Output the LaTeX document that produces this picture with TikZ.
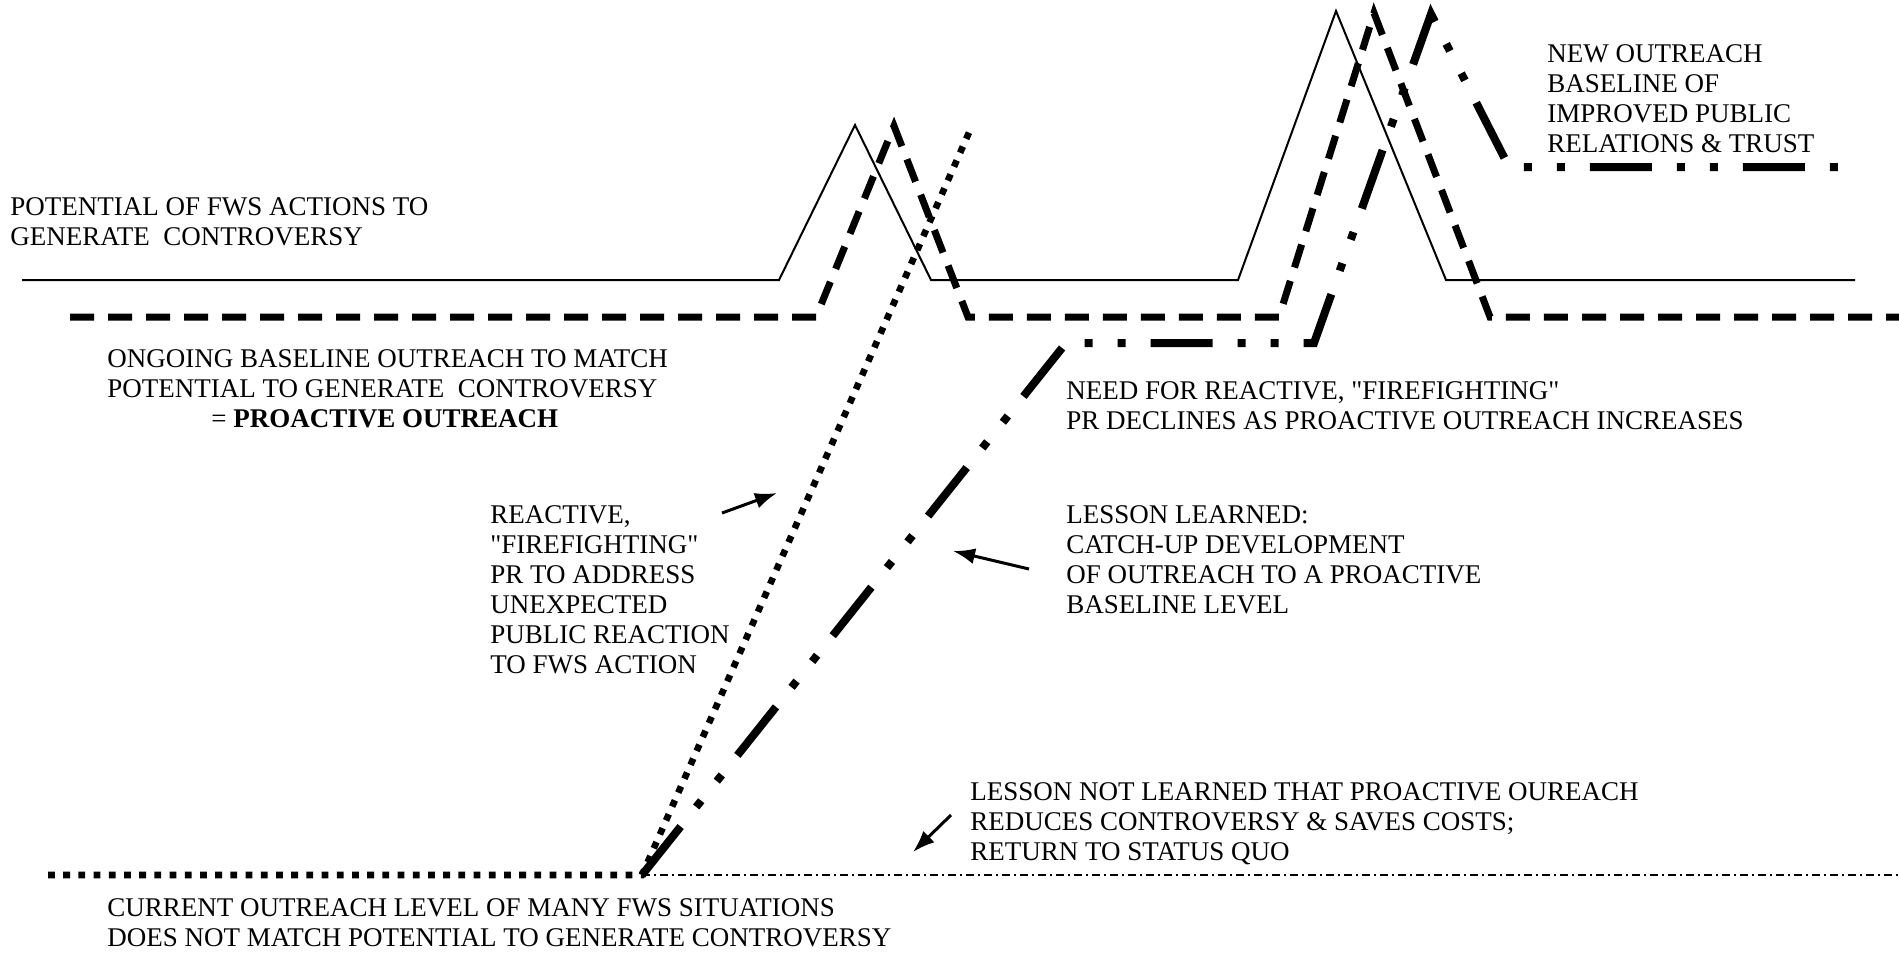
\documentclass[tikz,border=0pt]{standalone}
\usepackage{fontspec}
\setmainfont{Liberation Serif}
\usetikzlibrary{arrows.meta}

\begin{document}
\begin{tikzpicture}[
  x=0.5pt, y=-0.5pt,
  every node/.style = {align=left, anchor=base west, inner sep=0pt,
    font=\fontsize{13.5}{15}\selectfont},
  potential/.style = {line width=1pt},
  proactive/.style = {line width=3.5pt, dash pattern=on 12pt off 7pt},
  reactive/.style = {line width=3.3pt, dash pattern=on 3.4pt off 4.2pt},
  catchup/.style = {line width=4pt, dash pattern=on 31pt off 12.5pt on 4pt off 12.5pt on 4pt off 12.5pt},
  statusquo/.style = {line width=0.6pt, dash pattern=on 4pt off 2pt on 1pt off 2pt},
  pointer/.style = {line width=1.5pt, -{Latex[length=11pt,width=8pt]}}]
  \useasboundingbox (0,0) rectangle (1899,954);

  \coordinate (p0) at (22,280);   \coordinate (p1) at (779,280);
  \coordinate (p2) at (855,125);  \coordinate (p3) at (931,280);
  \coordinate (p4) at (1238,280); \coordinate (p5) at (1336,11);
  \coordinate (p6) at (1446,280); \coordinate (p7) at (1855,280);
  \draw[potential] (p0) -- (p1) -- (p2) -- (p3) -- (p4) -- (p5) -- (p6) -- (p7);

  \coordinate (d0) at (70,317);   \coordinate (d1) at (816,317);
  \coordinate (d2) at (894,126);  \coordinate (d3) at (968,317);
  \coordinate (d4) at (1279,317); \coordinate (d5) at (1374,13);
  \coordinate (d6) at (1490,317); \coordinate (d7) at (1899,317);
  \draw[proactive] (d0) -- (d1) -- (d2) -- (d3) -- (d4) -- (d5) -- (d6) -- (d7);

  \coordinate (r0) at (48,875);   \coordinate (r1) at (642,875);
  \coordinate (r2) at (971,128);  \coordinate (s1) at (1899,875);
  \draw[reactive] (r0) -- (r1) -- (r2);
  \draw[statusquo] (r1) -- (s1);

  \coordinate (c1) at (1066,343); \coordinate (c2) at (1314,343);
  \coordinate (c3) at (1431,14);  \coordinate (c4) at (1509,167);
  \coordinate (c5) at (1853,167);
  \draw[catchup] (r1) -- (c1) -- (c2) -- (c3) -- (c4) -- (c5);

  \node (potlabel) at (10,245) {POTENTIAL OF FWS ACTIONS TO\\GENERATE\ \ CONTROVERSY};
  \node (ongoing) at (107,427) {ONGOING BASELINE OUTREACH TO MATCH\\
    POTENTIAL TO GENERATE\ \ CONTROVERSY\\
    \hspace*{52pt}= \textbf{PROACTIVE OUTREACH}};
  \node (need) at (1066,429) {NEED FOR REACTIVE, \textquotedbl FIREFIGHTING\textquotedbl\\
    PR DECLINES AS PROACTIVE OUTREACH INCREASES};
  \node (learned) at (1066,613) {LESSON LEARNED:\\CATCH-UP DEVELOPMENT\\
    OF OUTREACH TO A PROACTIVE\\BASELINE LEVEL};
  \node (firefight) at (490,673) {REACTIVE,\\\textquotedbl FIREFIGHTING\textquotedbl\\PR TO ADDRESS\\
    UNEXPECTED\\PUBLIC REACTION\\TO FWS ACTION};
  \node (notlearned) at (970,860) {LESSON NOT LEARNED THAT PROACTIVE OUREACH\\
    REDUCES CONTROVERSY \& SAVES COSTS;\\RETURN TO STATUS QUO};
  \node (current) at (107,946) {CURRENT OUTREACH LEVEL OF MANY FWS SITUATIONS\\
    DOES NOT MATCH POTENTIAL TO GENERATE CONTROVERSY};
  \node (newbase) at (1547,152) {NEW OUTREACH\\BASELINE OF\\IMPROVED PUBLIC\\
    RELATIONS \& TRUST};

  \coordinate (a1s) at (722,513); \coordinate (a1e) at (777,493);
  \coordinate (a2s) at (1029,569); \coordinate (a2e) at (953,551);
  \coordinate (a3s) at (951,815); \coordinate (a3e) at (913,852);
  \draw[pointer] (a1s) -- (a1e);
  \draw[pointer] (a2s) -- (a2e);
  \draw[pointer] (a3s) -- (a3e);
\end{tikzpicture}
\end{document}
